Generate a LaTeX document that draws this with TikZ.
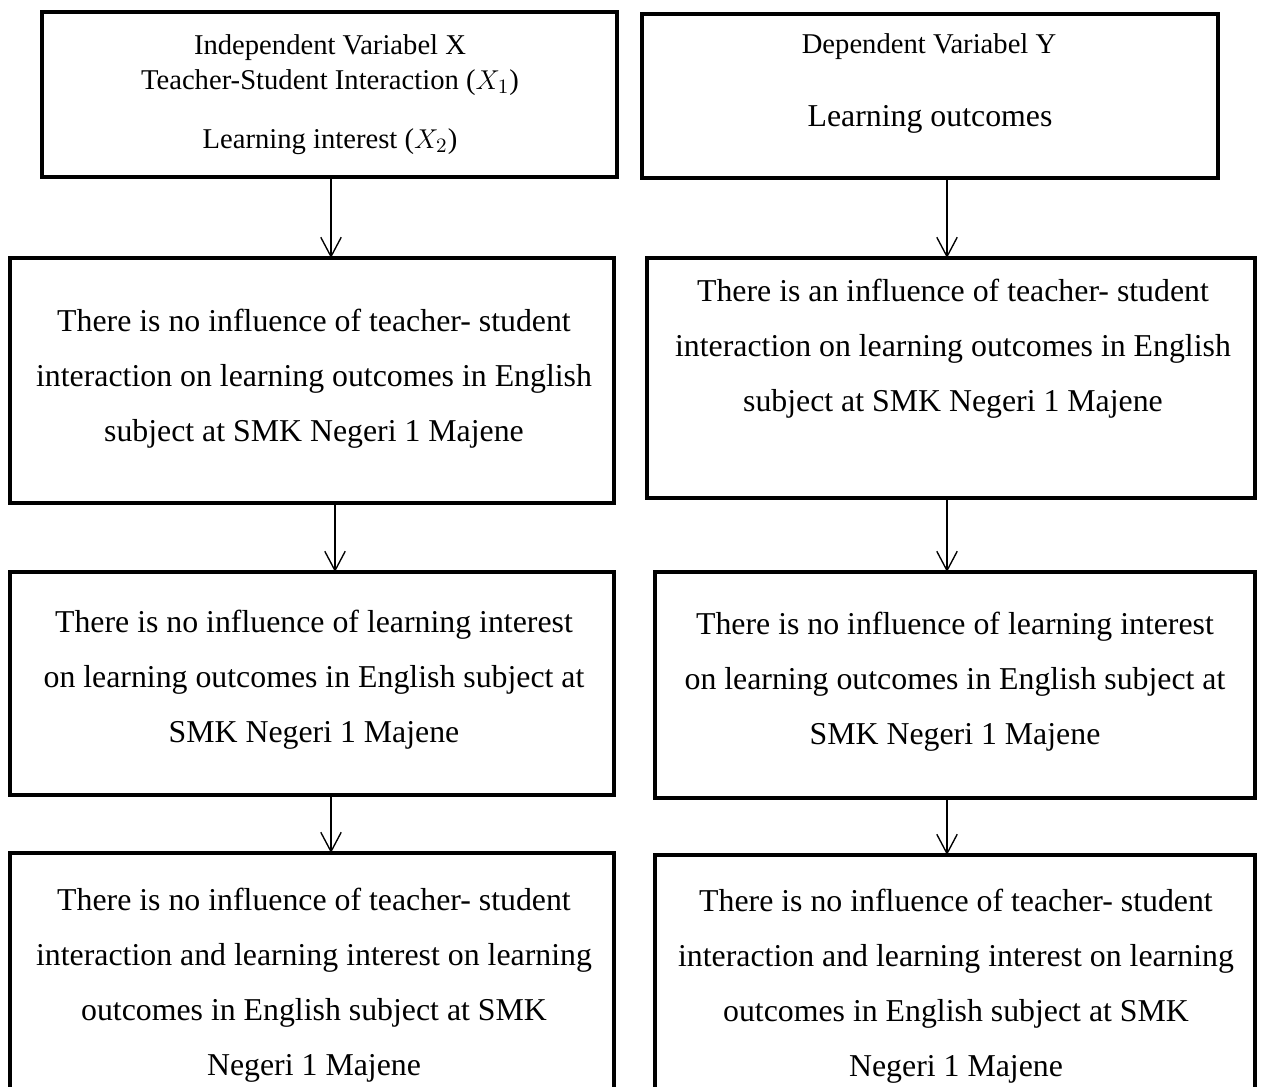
\documentclass[tikz,border=0pt]{standalone}
\usepackage{fontspec}
\setmainfont{Liberation Serif}
\usetikzlibrary{arrows.meta}
\tikzset{
  box/.style={draw, line width=2pt, inner sep=0pt, outer sep=0pt},
  txt/.style={align=center, inner sep=0pt, font=\fontsize{14}{24.2}\selectfont},
  small/.style={align=center, inner sep=0pt, font=\fontsize{12.6}{15.4}\selectfont},
  arr/.style={line width=0.6pt, -{Straight Barb[length=8.5pt,width=9pt,line width=0.6pt]}}
}
\newcommand{\bx}[5]{\node[box, minimum width={(#4-#2)*0.44pt}, minimum height={(#5-#3)*0.44pt}] (#1) at ({(#2+#4)/2},{(#3+#5)/2}) {};}
\begin{document}
\begin{tikzpicture}[x=0.44pt, y=-0.44pt]
\clip (0,0) rectangle (1266,1086);
\fill[white] (0,0) rectangle (1266,1086);
% boxes
\bx{L1}{42}{12}{617}{177}
\bx{R1}{642}{14}{1218}{178}
\bx{L2}{10}{258}{614}{503}
\bx{R2}{647}{258}{1255}{498}
\bx{L3}{10}{572}{614}{795}
\bx{R3}{655}{572}{1255}{798}
\bx{L4}{10}{853}{614}{1120}
\bx{R4}{655}{855}{1255}{1120}
% texts
\node[small] (t1a) at (330,65) {Independent Variabel X\\Teacher-Student Interaction ($X_1$)};
\node[small] (t1b) at (330,142) {Learning interest ($X_2$)};
\node[small] (r1a) at (929,47) {Dependent Variabel Y};
\node[txt] (r1b) at (930,119) {Learning outcomes};
\node[txt] (t2) at (314,379) {There is no influence of teacher- student\\interaction on learning outcomes in English\\subject at SMK Negeri 1 Majene};
\node[txt] (r2) at (953,349) {There is an influence of teacher- student\\interaction on learning outcomes in English\\subject at SMK Negeri 1 Majene};
\node[txt] (t3) at (314,680) {There is no influence of learning interest\\on learning outcomes in English subject at\\SMK Negeri 1 Majene};
\node[txt] (r3) at (955,682) {There is no influence of learning interest\\on learning outcomes in English subject at\\SMK Negeri 1 Majene};
\node[txt] (t4) at (314,985) {There is no influence of teacher- student\\interaction and learning interest on learning\\outcomes in English subject at SMK\\Negeri 1 Majene};
\node[txt] (r4) at (956,986) {There is no influence of teacher- student\\interaction and learning interest on learning\\outcomes in English subject at SMK\\Negeri 1 Majene};
% arrow columns
\coordinate (ax) at (331,0);
\coordinate (ax1) at (335,0);
\coordinate (ax2) at (331,0);
\coordinate (bx) at (947,0);
\draw[arr] (L1.south -| ax) -- (L2.north -| ax);
\draw[arr] (L2.south -| ax1) -- (L3.north -| ax1);
\draw[arr] (L3.south -| ax2) -- (L4.north -| ax2);
\draw[arr] (R1.south -| bx) -- (R2.north -| bx);
\draw[arr] (R2.south -| bx) -- (R3.north -| bx);
\draw[arr] (R3.south -| bx) -- (R4.north -| bx);
\end{tikzpicture}
\end{document}
